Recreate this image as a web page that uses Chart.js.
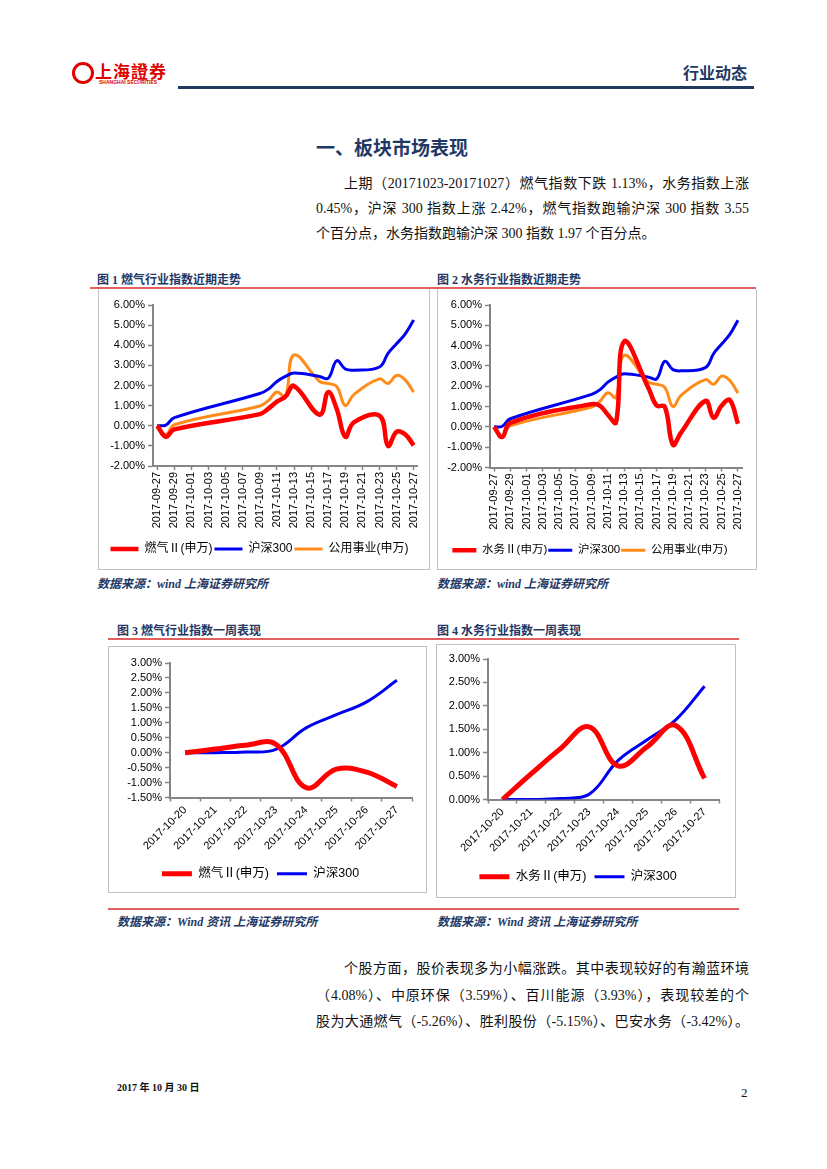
<!DOCTYPE html>
<html>
<head>
<meta charset="utf-8">
<script src="https://cdn.jsdelivr.net/npm/chart.js@4.4.1/dist/chart.umd.min.js"></script>
<style>
  body { margin: 0; background: #fff; }
  #page { position: relative; width: 827px; height: 1169px; overflow: hidden; font-family: 'Liberation Serif', 'Noto Sans CJK SC', serif; color: #111; }
  .abs { position: absolute; white-space: nowrap; }
  .navy { color: #1F3864; }
  .rule { position: absolute; height: 2px; background: #E06060; }
  .box { position: absolute; border: 1.5px solid #C0C0C0; box-sizing: border-box; }
  .cap { position: absolute; font-size: 12px; font-weight: bold; color: #1F3864; white-space: nowrap; }
  .src { position: absolute; font-size: 12px; font-weight: bold; font-style: italic; color: #1F3864; white-space: nowrap; }
  .line { position: absolute; font-size: 14px; line-height: 20px; text-align: justify; text-align-last: justify; white-space: nowrap; }
  canvas { position: absolute; }
</style>
</head>
<body>
<div id="page">
  <!-- header -->
  <div class="abs" style="left:72px;top:62px;width:16px;height:16px;border:3px solid #E00000;border-radius:50%;"></div>
  <div class="abs" style="left:95px;top:58px;font-size:17px;font-weight:bold;color:#E00000;letter-spacing:1px;">上海證券</div>
  <div class="abs" style="left:99px;top:79px;font-size:5px;font-weight:bold;color:#E00000;font-family:'Liberation Sans';">SHANGHAI SECURITIES</div>
  <div class="abs navy" style="left:683px;top:60px;font-size:16px;font-weight:bold;font-family:'Noto Sans CJK SC';">行业动态</div>
  <div class="abs" style="left:178px;top:86px;width:576px;height:3px;background:#1F3A60;"></div>

  <!-- section title and paragraph -->
  <div class="abs navy" style="left:316px;top:133px;font-size:19px;font-weight:bold;font-family:'Noto Sans CJK SC';">一、板块市场表现</div>
  <div class="line" style="left:344px;top:174px;width:405px;">上期（20171023-20171027）燃气指数下跌 1.13%，水务指数上涨</div>
  <div class="line" style="left:316px;top:199px;width:433px;">0.45%，沪深 300 指数上涨 2.42%，燃气指数跑输沪深 300 指数 3.55</div>
  <div class="line" style="left:316px;top:224px;text-align-last:left;">个百分点，水务指数跑输沪深 300 指数 1.97 个百分点。</div>

  <!-- figure 1 / 2 -->
  <div class="cap" style="left:97px;top:270px;">图 1 燃气行业指数近期走势</div>
  <div class="cap" style="left:437px;top:270px;">图 2 水务行业指数近期走势</div>
  <div class="rule" style="left:90px;top:287px;width:666px;"></div>
  <div class="box" style="left:98px;top:289px;width:332px;height:281px;border-top:none;"></div>
  <div class="box" style="left:437px;top:289px;width:320px;height:281px;border-top:none;"></div>
  <canvas id="c1" width="330" height="279" style="left:99px;top:290px;"></canvas>
  <canvas id="c2" width="318" height="279" style="left:438px;top:290px;"></canvas>
  <div class="src" style="left:97px;top:574px;">数据来源：wind 上海证券研究所</div>
  <div class="src" style="left:437px;top:574px;">数据来源：wind 上海证券研究所</div>

  <!-- figure 3 / 4 -->
  <div class="cap" style="left:117px;top:621px;">图 3 燃气行业指数一周表现</div>
  <div class="cap" style="left:437px;top:621px;">图 4 水务行业指数一周表现</div>
  <div class="rule" style="left:108px;top:638px;width:631px;"></div>
  <div class="box" style="left:108px;top:646px;width:319px;height:247px;"></div>
  <div class="box" style="left:436px;top:644px;width:300px;height:254px;"></div>
  <canvas id="c3" width="316" height="244" style="left:109px;top:647px;"></canvas>
  <canvas id="c4" width="297" height="252" style="left:437px;top:645px;"></canvas>
  <div class="rule" style="left:108px;top:908px;width:631px;"></div>
  <div class="src" style="left:117px;top:912px;">数据来源：Wind 资讯 上海证券研究所</div>
  <div class="src" style="left:437px;top:912px;">数据来源：Wind 资讯 上海证券研究所</div>

  <!-- second paragraph -->
  <div class="line" style="left:344px;top:959px;width:405px;">个股方面，股价表现多为小幅涨跌。其中表现较好的有瀚蓝环境</div>
  <div class="line" style="left:316px;top:986px;width:433px;">（4.08%）、中原环保（3.59%）、百川能源（3.93%），表现较差的个</div>
  <div class="line" style="left:316px;top:1012px;width:433px;">股为大通燃气（-5.26%）、胜利股份（-5.15%）、巴安水务（-3.42%）。</div>

  <!-- footer -->
  <div class="abs" style="left:117px;top:1079px;font-size:10px;font-weight:bold;">2017 年 10 月 30 日</div>
  <div class="abs" style="left:741px;top:1085px;font-size:13px;">2</div>
</div>

<script>
// trading days 2017-09-27 .. 2017-10-27 on a calendar axis, null = no trading
const dayLabels = [
  '2017-09-27', '2017-09-28', '2017-09-29', '2017-09-30', '2017-10-01', '2017-10-02',
  '2017-10-03', '2017-10-04', '2017-10-05', '2017-10-06', '2017-10-07', '2017-10-08',
  '2017-10-09', '2017-10-10', '2017-10-11', '2017-10-12', '2017-10-13', '2017-10-14',
  '2017-10-15', '2017-10-16', '2017-10-17', '2017-10-18', '2017-10-19', '2017-10-20',
  '2017-10-21', '2017-10-22', '2017-10-23', '2017-10-24', '2017-10-25', '2017-10-26',
  '2017-10-27'
];
const gasMonth = [0, -0.55, -0.18, null, null, null, null, null, null, null, null, null,
  0.58, 0.85, 1.2, 1.45, 1.98, null, null, 0.55, 1.67, 0.83, -0.55, 0.17, null, null,
  0.5, -1.0, -0.3, -0.42, -0.97];
const waterMonth = [0, -0.5, 0.2, null, null, null, null, null, null, null, null, null,
  1.12, 1.05, 0.6, 0.22, 4.2, null, null, 1.9, 1.05, 1.0, -0.88, -0.28, null, null,
  1.28, 0.45, 1.05, 1.32, 0.15];
const hs300Month = [0, 0.03, 0.4, null, null, null, null, null, null, null, null, null,
  1.6, 1.82, 2.2, 2.45, 2.62, null, null, 2.45, 2.36, 3.23, 2.82, 2.76, null, null,
  2.92, 3.6, 4.08, 4.55, 5.25];
const utilityMonth = [0, -0.45, 0.05, null, null, null, null, null, null, null, null, null,
  0.98, 1.25, 1.68, 1.45, 3.52, null, null, 2.2, 2.1, 1.95, 1.0, 1.55, null, null,
  2.33, 2.1, 2.5, 2.28, 1.67];

const weekLabels = ['2017-10-20', '2017-10-21', '2017-10-22', '2017-10-23',
  '2017-10-24', '2017-10-25', '2017-10-26', '2017-10-27'];
const gasWeek = [0, 0.12, 0.25, 0.28, -1.17, -0.55, -0.65, -1.13];
const waterWeek = [0, 0.55, 1.08, 1.55, 0.72, 1.12, 1.58, 0.45];
const hs300Week = [0, 0, 0.02, 0.11, 0.83, 1.27, 1.7, 2.42];

const RED = '#FF0000';
const BLUE = '#0000F0';
const ORANGE = '#FF8C1A';
const AXIS = '#858585';

Chart.defaults.font.family = "'Liberation Sans', 'Noto Sans CJK SC', sans-serif";
Chart.defaults.color = '#000';
Chart.defaults.animation = false;

function series(label, data, color, width) {
  return {
    label: label,
    data: data,
    borderColor: color,
    backgroundColor: color,
    borderWidth: width,
    pointRadius: 0,
    tension: 0.4,
    spanGaps: true
  };
}

function drawChart(id, labels, datasets, cfg) {
  const ctx = document.getElementById(id).getContext('2d');
  new Chart(ctx, {
    type: 'line',
    data: { labels: labels, datasets: datasets },
    options: {
      responsive: false,
      layout: { padding: cfg.padding },
      plugins: {
        tooltip: { enabled: false },
        legend: {
          position: 'bottom',
          labels: {
            usePointStyle: true,
            pointStyle: 'line',
            pointStyleWidth: cfg.legendLine,
            padding: cfg.legendPad,
            font: { size: cfg.legendFont },
            color: '#000'
          }
        }
      },
      scales: {
        x: {
          offset: true,
          border: { color: AXIS, width: 2 },
          grid: {
            drawOnChartArea: false,
            tickLength: 4,
            tickWidth: 1.5,
            offset: cfg.gridOffset,
            tickColor: cfg.tickColor || AXIS
          },
          ticks: {
            autoSkip: false,
            minRotation: cfg.rotation,
            maxRotation: cfg.rotation,
            padding: 2,
            font: { size: 11 },
            color: '#000',
            callback: function (val, i) {
              if (cfg.everyOther && i % 2 === 1) return '';
              return this.getLabelForValue(val);
            }
          },
          afterFit: function (s) { s.height = cfg.xHeight; }
        },
        y: {
          min: cfg.min,
          max: cfg.max,
          border: { color: AXIS, width: 2 },
          grid: { drawOnChartArea: false, tickLength: 5, tickWidth: 1.5, tickColor: AXIS },
          ticks: {
            stepSize: cfg.step,
            autoSkip: false,
            padding: 3,
            font: { size: 11 },
            color: '#000',
            callback: v => v.toFixed(2) + '%'
          },
          afterFit: function (s) { s.width = cfg.yWidth; }
        }
      }
    }
  });
}

const monthCfg = {
  min: -2, max: 6, step: 1, rotation: 90, everyOther: true, gridOffset: false,
  legendLine: 28, legendPad: 2, legendFont: 12,
  tickColor: c => (c.index % 2 === 0 ? AXIS : 'rgba(0,0,0,0)')
};

drawChart('c1', dayLabels, [
  series('燃气Ⅱ(申万)', gasMonth, RED, 4.5),
  series('沪深300', hs300Month, BLUE, 3),
  series('公用事业(申万)', utilityMonth, ORANGE, 3)
], Object.assign({}, monthCfg, {
  padding: { top: 15, right: 9, bottom: 4, left: 0 },
  yWidth: 54, xHeight: 75
}));

drawChart('c2', dayLabels, [
  series('水务Ⅱ(申万)', waterMonth, RED, 4.5),
  series('沪深300', hs300Month, BLUE, 3),
  series('公用事业(申万)', utilityMonth, ORANGE, 3)
], Object.assign({}, monthCfg, {
  legendLine: 24, legendPad: 1, legendFont: 11.5,
  padding: { top: 15, right: 14, bottom: 3, left: 0 },
  yWidth: 52, xHeight: 76
}));

drawChart('c3', weekLabels, [
  series('燃气Ⅱ(申万)', gasWeek, RED, 5),
  series('沪深300', hs300Week, BLUE, 3)
], {
  min: -1.5, max: 3, step: 0.5, rotation: 45, everyOther: false, gridOffset: true,
  legendLine: 30, legendPad: 8, legendFont: 12.5,
  padding: { top: 16, right: 13, bottom: 1, left: 0 },
  yWidth: 61, xHeight: 62
});

drawChart('c4', weekLabels, [
  series('水务Ⅱ(申万)', waterWeek, RED, 5),
  series('沪深300', hs300Week, BLUE, 3)
], {
  min: 0, max: 3, step: 0.5, rotation: 45, everyOther: false, gridOffset: true,
  legendLine: 30, legendPad: 8, legendFont: 12.5,
  padding: { top: 14, right: 15, bottom: 4, left: 0 },
  yWidth: 51, xHeight: 63
});
</script>
</body>
</html>
